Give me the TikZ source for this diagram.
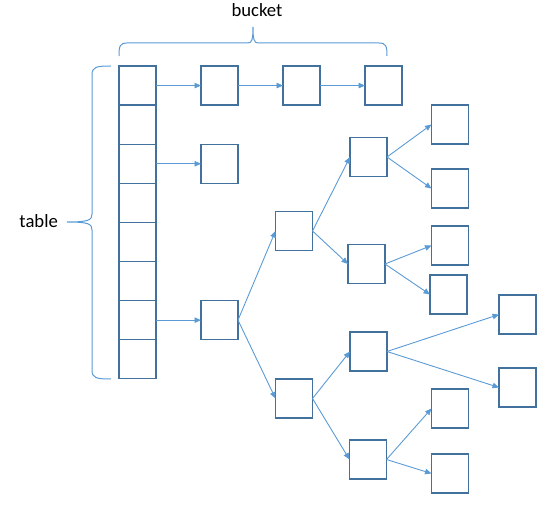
\documentclass[tikz,border=0pt]{standalone}
\usepackage{fontspec}
\setmainfont{Carlito}
\usepackage{tikz}
\usetikzlibrary{arrows.meta,positioning}
\definecolor{boxline}{HTML}{41719C}
\definecolor{arrline}{HTML}{5B9BD5}
\tikzset{cell/.style={draw=boxline,line width=1.3pt,minimum width=37pt,minimum height=39.1pt,inner sep=0pt,outer sep=0pt},arr/.style={-{Triangle[length=6.5pt,width=5.5pt]},line width=0.9pt,draw=arrline},brace/.style={draw=arrline,line width=1pt},lbl/.style={font=\fontsize{18.7}{22}\selectfont,anchor=base,inner sep=0pt}}

\begin{document}
\begin{tikzpicture}[x=1pt,y=-1pt,node distance=45pt]
\useasboundingbox (0,0) rectangle (550,508);
% table column
\foreach \i in {1,...,8}
  \node[cell] (t\i) at (137.5,{66+39.1*(\i-0.5)}) {};
% buckets
\node[cell,right=of t1] (b1) {};
\node[cell,right=of b1] (b2) {};
\node[cell,right=of b2] (b3) {};
\node[cell,right=of t3] (c1) {};
\node[cell,right=of t7] (root) {};
% tree
\node[cell] (a) at (294,231) {};
\node[cell] (b) at (294,398.5) {};
\node[cell] (aa) at (368.5,157) {};
\node[cell] (ab) at (366.5,264) {};
\node[cell] (ba) at (368.5,351.5) {};
\node[cell] (bb) at (368,459.5) {};
\node[cell] (aaa) at (450,124.5) {};
\node[cell] (aab) at (450,188.5) {};
\node[cell] (aba) at (450,245.5) {};
\node[cell] (abb) at (448.5,294.5) {};
\node[cell] (baa) at (517.5,314.5) {};
\node[cell] (bab) at (517.5,387.5) {};
\node[cell] (bba) at (450,408.5) {};
\node[cell] (bbb) at (450,473.5) {};
\draw[arr] (t1)--(b1);\draw[arr] (b1)--(b2);\draw[arr] (b2)--(b3);
\draw[arr] (t3)--(c1);\draw[arr] (t7)--(root);
\draw[arr] (root.east)--(a.west);\draw[arr] (root.east)--(b.west);
\draw[arr] (a.east)--(aa.west);\draw[arr] (a.east)--(ab.west);
\draw[arr] (b.east)--(ba.west);\draw[arr] (b.east)--(bb.west);
\draw[arr] (aa.east)--(aaa.west);\draw[arr] (aa.east)--(aab.west);
\draw[arr] (ab.east)--(aba.west);\draw[arr] (ab.east)--(abb.west);
\draw[arr] (ba.east)--(baa.west);\draw[arr] (ba.east)--(bab.west);
\draw[arr] (bb.east)--(bba.west);\draw[arr] (bb.east)--(bbb.west);
% braces
\draw[brace] (119,56) .. controls (119,46) and (120,43) .. (127,43) -- (248,43) .. controls (252,43) and (253,39) .. (253,27) .. controls (253,39) and (254,43) .. (258,43) -- (379,43) .. controls (386,43) and (387,46) .. (387,56);
\draw[brace] (111,66) .. controls (96,66) and (92,67) .. (92,75) -- (92,214) .. controls (92,220) and (89,222) .. (67,222) .. controls (89,222) and (92,224) .. (92,230) -- (92,370) .. controls (92,378) and (96,379) .. (111,379);
\node[lbl] (bucket) at (257,16.7) {bucket};
\node[lbl] (table) at (38.7,228) {table};
\end{tikzpicture}
\end{document}
